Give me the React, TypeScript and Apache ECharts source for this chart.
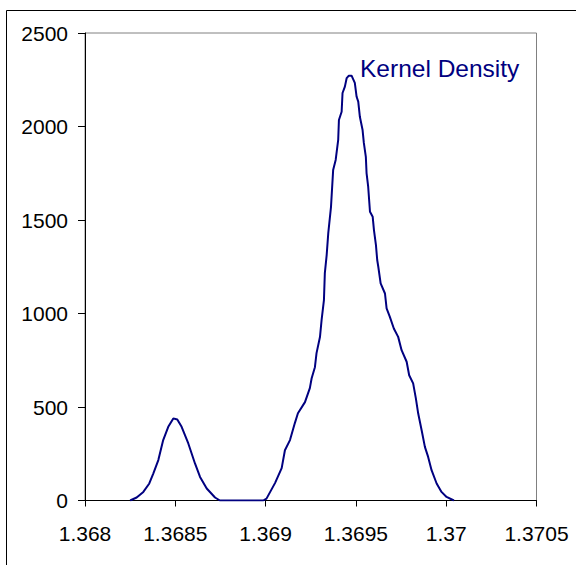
import React, { useEffect, useRef } from "react";
import * as echarts from "echarts";

const xValues: number[] = [
  1.36825, 1.368286, 1.368323, 1.368356, 1.368378, 1.368406, 1.368433, 1.368461, 1.368489,
  1.368511, 1.368535, 1.368572, 1.368609, 1.368637, 1.368674, 1.36872, 1.368747, 1.368987,
  1.369005, 1.369052, 1.369089, 1.369107, 1.369135, 1.369162, 1.369179, 1.369218, 1.369245,
  1.369255, 1.369273, 1.369282, 1.369301, 1.36931, 1.369323, 1.369328, 1.369338, 1.369347,
  1.369362, 1.369374, 1.369388, 1.369402, 1.369406, 1.369421, 1.369426, 1.369439, 1.369449,
  1.369461, 1.369476, 1.369494, 1.369504, 1.369513, 1.369522, 1.369537, 1.369544, 1.369555,
  1.369559, 1.369568, 1.369578, 1.369593, 1.3696, 1.369611, 1.369618, 1.369624, 1.369637,
  1.369661, 1.36967, 1.369688, 1.36971, 1.369734, 1.369753, 1.369781, 1.369795, 1.369817,
  1.369832, 1.369845, 1.369864, 1.369882, 1.3699, 1.369919, 1.369947, 1.369974, 1.370002,
  1.370043,
];
const densityValues: number[] = [
  0, 16, 46, 91, 144, 216, 323, 394, 439,
  433, 394, 305, 198, 126, 64, 16, 0, 0,
  10, 93, 173, 269, 323, 414, 467, 526, 601,
  654, 713, 788, 874, 965, 1072, 1216, 1311, 1430,
  1569, 1767, 1821, 1928, 2035, 2079, 2179, 2213, 2259,
  2272, 2272, 2233, 2159, 2133, 2052, 1981, 1912, 1838,
  1751, 1678, 1544, 1517, 1446, 1366, 1286, 1250, 1161,
  1107, 1027, 982, 920, 875, 804, 742, 670, 626,
  546, 465, 376, 287, 233, 162, 91, 46, 19,
  0,
];
const xTickLabels: string[] = ["1.368", "1.3685", "1.369", "1.3695", "1.37", "1.3705"];
const yTickLabels: string[] = ["0", "500", "1000", "1500", "2000", "2500"];
const seriesName = "Kernel Density";

export default function App() {
  const ref = useRef<HTMLDivElement>(null);
  useEffect(() => {
    if (!ref.current) return;
    const chart = echarts.init(ref.current, null, { renderer: "svg" });
    const font = "Liberation Sans, Arial, sans-serif";
    chart.setOption({
      animation: false,
      backgroundColor: "#ffffff",
      grid: {
        left: 85,
        top: 33,
        right: 39.5,
        bottom: 64.5,
        show: true,
        borderColor: "#808080",
        borderWidth: 1,
        backgroundColor: "transparent",
      },
      xAxis: {
        type: "value",
        min: 1.368,
        max: 1.3705,
        interval: 0.0005,
        splitLine: { show: false },
        axisLine: { show: true, onZero: false, lineStyle: { color: "#000000", width: 1 } },
        axisTick: { show: true, length: 6, lineStyle: { color: "#000000" } },
        axisLabel: {
          margin: 22,
          fontSize: 21,
          color: "#000000",
          fontFamily: font,
          showMaxLabel: true,
          showMinLabel: true,
          formatter: (v: number) => {
            const i = Math.round((v - 1.368) / 0.0005);
            return xTickLabels[i] ?? "";
          },
        },
      },
      yAxis: {
        type: "value",
        min: 0,
        max: 2500,
        interval: 500,
        splitLine: { show: false },
        axisLine: { show: true, lineStyle: { color: "#000000", width: 1 } },
        axisTick: { show: true, length: 7, lineStyle: { color: "#000000" } },
        axisLabel: {
          margin: 17,
          fontSize: 21,
          color: "#000000",
          fontFamily: font,
          formatter: (v: number) => {
            const i = Math.round(v / 500);
            return yTickLabels[i] ?? "";
          },
        },
      },
      series: [
        {
          name: seriesName,
          type: "line",
          data: xValues.map((x, i) => [x, densityValues[i]]),
          showSymbol: false,
          smooth: false,
          lineStyle: { color: "#000080", width: 2 },
          itemStyle: { color: "#000080" },
        },
      ],
      graphic: [
        {
          type: "rect",
          shape: { x: 6.5, y: 10.5, width: 700, height: 700 },
          style: { fill: "none", stroke: "#000000", lineWidth: 1 },
          z: 100,
        },
        {
          type: "text",
          left: 360,
          top: 56,
          style: {
            text: seriesName,
            fill: "#000080",
            fontSize: 24.5,
            fontFamily: font,
          },
          z: 100,
        },
      ],
    });
    return () => chart.dispose();
  }, []);
  return (
    <div
      ref={ref}
      style={{ position: "fixed", left: 0, top: 0, width: 576, height: 565 }}
    />
  );
}
